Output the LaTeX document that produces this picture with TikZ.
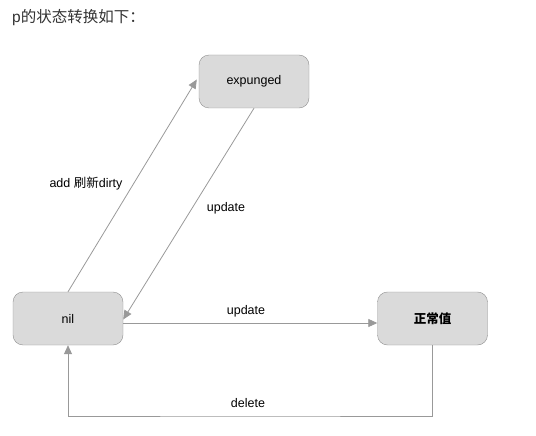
\documentclass[tikz,border=0pt]{standalone}
\usepackage{fontspec}
\setmainfont{Liberation Sans}
\newfontfamily\cjk{Noto Sans CJK SC}
\usetikzlibrary{arrows.meta}
\definecolor{boxfill}{HTML}{DADADA}
\definecolor{boxline}{HTML}{8F8F8F}
\definecolor{wire}{HTML}{999999}
\definecolor{titlecol}{HTML}{333333}
\begin{document}
\begin{tikzpicture}[x=1pt,y=-1pt,
	state/.style={draw=boxline,fill=boxfill,rounded corners=10pt,minimum width=110pt,minimum height=53pt,font=\fontsize{12.5}{14}\selectfont},
	arr/.style={draw=wire,line width=0.8pt,-{Triangle[length=9pt,width=8pt]}},
	lbl/.style={font=\fontsize{12.5}{14}\selectfont,inner sep=0pt}]
	\useasboundingbox (0,0) rectangle (536,436);
	\node[anchor=west,inner sep=0pt,text=titlecol,font=\fontsize{15.5}{17}\selectfont] (title) at (12,18) {p{\cjk 的状态转换如下：}};
	\node[state] (exp) at (254,81.5) {expunged};
	\node[state] (nil) at (68,318.5) {nil};
	\node[state] (ok) at (432.5,318.5) {{\cjk\bfseries 正常值}};
	\coordinate (low) at (250,416);
	\draw[arr] (nil.north) -- ([yshift=2pt,xshift=-2pt]exp.west);
	\draw[arr] (exp.south) -- ([yshift=-1pt]nil.east);
	\draw[arr] ([yshift=-4.5pt]nil.east) -- ([yshift=-4.5pt]ok.west);
	\draw[arr] (ok.south) |- (low) -| (nil.south);
	\node[lbl] (addlbl) at (86,184) {add {\cjk 刷新}dirty};
	\node[lbl] (uplbl) at (226,208) {update};
	\node[lbl] (midlbl) at (246,311) {update};
	\node[lbl] (dellbl) at (248,403) {delete};
\end{tikzpicture}
\end{document}
